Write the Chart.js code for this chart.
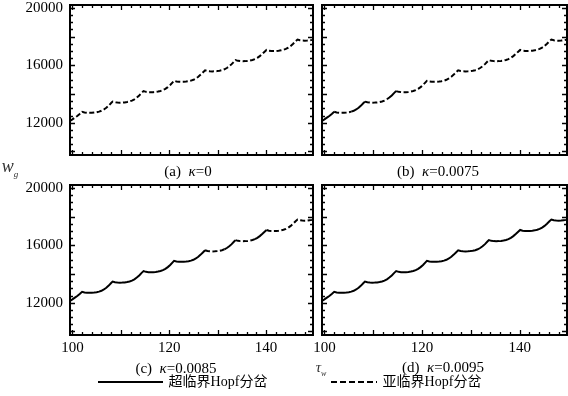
<!DOCTYPE html>
<html>
<head>
<meta charset="utf-8">
<script src="https://cdn.jsdelivr.net/npm/chart.js@4.4.1/dist/chart.umd.min.js"></script>
<style>
    body { margin: 0; background: #fff; }
    #wrap { position: relative; width: 568px; height: 396px; overflow: hidden; font-family: "Liberation Serif", "Times New Roman", serif; color: #000; }
    #wrap canvas { position: absolute; left: 0; top: 0; }
    .txt { position: absolute; white-space: nowrap; font-size: 15px; line-height: 1; transform: translate(-50%, -50%); }
    .cjk { font-family: "Liberation Serif", "Noto Sans CJK SC", serif; font-size: 14px; }
</style>
</head>
<body>
<div id="wrap">
    <canvas id="panelA" width="568" height="396"></canvas>
    <canvas id="panelB" width="568" height="396"></canvas>
    <canvas id="panelC" width="568" height="396"></canvas>
    <canvas id="panelD" width="568" height="396"></canvas>

    <div class="txt" style="left:188px;top:171px;">(a)&nbsp;&nbsp;<i>κ</i>=0</div>
    <div class="txt" style="left:438px;top:171px;">(b)&nbsp;&nbsp;<i>κ</i>=0.0075</div>
    <div class="txt" style="left:176px;top:368px;">(c)&nbsp;&nbsp;<i>κ</i>=0.0085</div>
    <div class="txt" style="left:443px;top:367px;">(d)&nbsp;&nbsp;<i>κ</i>=0.0095</div>

    <div class="txt" style="left:10px;top:168px;font-size:18px;color:#333;"><i>w</i><sub style="font-size:9px;"><i>g</i></sub></div>
    <div class="txt" style="left:321px;top:369px;font-size:15px;color:#333;"><i>τ</i><sub style="font-size:8px;"><i>w</i></sub></div>

    <svg style="position:absolute;left:0;top:0;" width="568" height="396">
        <line x1="98" y1="382" x2="163" y2="382" stroke="#000" stroke-width="2"></line>
        <line x1="331" y1="382" x2="377" y2="382" stroke="#000" stroke-width="2" stroke-dasharray="6 3"></line>
    </svg>
    <div class="txt cjk" style="left:218px;top:382px;">超临界Hopf分岔</div>
    <div class="txt cjk" style="left:432px;top:382px;">亚临界Hopf分岔</div>
</div>

<script>
// curve (same curve in all four panels)
const tau = [
    99.5, 100.0, 100.5, 101.0, 101.5, 102.0,
    102.5, 103.0, 103.5, 104.0, 104.5, 105.0, 105.5, 106.0, 106.5, 107.0, 107.5, 108.0, 108.3,
    108.8, 109.3, 109.8, 110.3, 110.8, 111.3, 111.8, 112.3, 112.8, 113.3, 113.8, 114.3, 114.7,
    115.2, 115.7, 116.2, 116.7, 117.2, 117.7, 118.2, 118.7, 119.2, 119.7, 120.2, 120.7, 121.0,
    121.5, 122.0, 122.5, 123.0, 123.5, 124.0, 124.5, 125.0, 125.5, 126.0, 126.5, 127.0, 127.4,
    127.9, 128.4, 128.9, 129.4, 129.9, 130.4, 130.9, 131.4, 131.9, 132.4, 132.9, 133.4, 133.7,
    134.2, 134.7, 135.2, 135.7, 136.2, 136.7, 137.2, 137.7, 138.2, 138.7, 139.2, 139.7, 140.1,
    140.6, 141.1, 141.6, 142.1, 142.6, 143.1, 143.6, 144.1, 144.6, 145.1, 145.6, 146.1, 146.5,
    147.0, 147.5, 148.0, 148.5, 149.0, 149.5, 149.7
];
const wg = [
    12120, 12230, 12350, 12470, 12610, 12760,
    12710, 12690, 12685, 12690, 12705, 12730, 12770, 12830, 12920, 13040, 13190, 13370, 13470,
    13420, 13400, 13395, 13400, 13415, 13440, 13480, 13540, 13630, 13750, 13900, 14080, 14200,
    14150, 14130, 14125, 14130, 14145, 14170, 14210, 14270, 14360, 14480, 14630, 14810, 14920,
    14870, 14850, 14845, 14850, 14865, 14890, 14930, 14990, 15080, 15200, 15350, 15520, 15650,
    15600, 15580, 15575, 15580, 15595, 15620, 15660, 15720, 15810, 15930, 16080, 16260, 16360,
    16310, 16290, 16285, 16290, 16305, 16330, 16370, 16430, 16520, 16640, 16790, 16950, 17070,
    17020, 17000, 16995, 17000, 17015, 17040, 17080, 17140, 17230, 17350, 17500, 17670, 17790,
    17740, 17720, 17715, 17720, 17745, 17770, 17785
];

// tau ranges drawn solid (supercritical); everything else dashed (subcritical)
const solidA = [];
const solidB = [[99.5, 102.0], [105.5, 108.3], [112.8, 114.7]];
const solidC = [[99.5, 127.4], [131.2, 133.7], [137.9, 140.1]];
const solidD = [[99.5, 149.7]];

const xTicks = [100, 120, 140];
const yTicks = [12000, 16000, 20000];

Chart.defaults.font.family = "'Liberation Serif', 'Times New Roman', serif";
Chart.defaults.font.size = 15;
Chart.defaults.color = "#000";

// frame with inward ticks on all four sides
const framePlugin = {
    id: "frame",
    afterDatasetsDraw(chart) {
        const ctx = chart.ctx;
        const a = chart.chartArea;
        const x = chart.scales.x;
        const y = chart.scales.y;

        ctx.save();
        ctx.strokeStyle = "#000";
        ctx.lineWidth = 1.3;
        ctx.beginPath();
        for (let v = 100; v <= 148; v += 2) {
            const px = Math.round(x.getPixelForValue(v)) + 0.5;
            const len = v % 10 === 0 ? 5 : 3;
            ctx.moveTo(px, a.bottom); ctx.lineTo(px, a.bottom - len);
            ctx.moveTo(px, a.top); ctx.lineTo(px, a.top + len);
        }
        for (let v = 10000; v <= 20000; v += 500) {
            const py = Math.round(y.getPixelForValue(v)) + 0.5;
            const len = v % 2000 === 0 ? 5 : 3;
            ctx.moveTo(a.left, py); ctx.lineTo(a.left + len, py);
            ctx.moveTo(a.right, py); ctx.lineTo(a.right - len, py);
        }
        ctx.stroke();

        ctx.lineWidth = 2;
        ctx.strokeRect(a.left, a.top, a.right - a.left, a.bottom - a.top);
        ctx.restore();
    }
};

function isSolid(ranges, t) {
    return ranges.some(r => t >= r[0] && t <= r[1]);
}

// box: plot frame edges in page pixels
function makePanel(id, solid, box, showX, showY) {

    const points = tau.map((t, i) => ({ x: t, y: wg[i] }));
    const yWidth = showY ? box.left : 0;
    const xHeight = showX ? 30 : 0;

    new Chart(document.getElementById(id), {
        type: "line",
        data: {
            datasets: [{
                data: points,
                borderColor: "#000",
                borderWidth: 2,
                pointRadius: 0,
                tension: 0,
                fill: false,
                borderDash: [5, 2.5],
                segment: {
                    borderDash: ctx =>
                        isSolid(solid, (ctx.p0.parsed.x + ctx.p1.parsed.x) / 2) ? [] : [5, 2.5]
                }
            }]
        },
        options: {
            responsive: false,
            animation: false,
            events: [],
            layout: {
                autoPadding: false,
                padding: {
                    left: box.left - yWidth,
                    top: box.top,
                    right: 568 - box.right,
                    bottom: 396 - box.bottom - xHeight
                }
            },
            plugins: {
                legend: { display: false },
                tooltip: { enabled: false }
            },
            scales: {
                x: {
                    type: "linear",
                    min: 99.5,
                    max: 149.7,
                    grid: { display: false, drawTicks: false },
                    border: { display: false },
                    afterFit: s => { s.height = xHeight; s.paddingLeft = 0; s.paddingRight = 0; },
                    afterBuildTicks: s => { s.ticks = xTicks.map(v => ({ value: v })); },
                    ticks: {
                        display: showX,
                        padding: 4,
                        maxRotation: 0,
                        autoSkip: false,
                        callback: value => String(value)
                    }
                },
                y: {
                    min: 9750,
                    max: 20200,
                    grid: { display: false, drawTicks: false },
                    border: { display: false },
                    afterFit: s => { s.width = yWidth; s.paddingTop = 0; s.paddingBottom = 0; },
                    afterBuildTicks: s => { s.ticks = yTicks.map(v => ({ value: v })); },
                    ticks: {
                        display: showY,
                        padding: 7,
                        callback: value => String(value)
                    }
                }
            }
        },
        plugins: [framePlugin]
    });
}

makePanel("panelA", solidA, { left: 70, top: 5, right: 313, bottom: 155 }, false, true);
makePanel("panelB", solidB, { left: 322, top: 5, right: 567, bottom: 155 }, false, false);
makePanel("panelC", solidC, { left: 70, top: 185, right: 313, bottom: 335 }, true, true);
makePanel("panelD", solidD, { left: 322, top: 185, right: 567, bottom: 335 }, true, false);
</script>
</body>
</html>
